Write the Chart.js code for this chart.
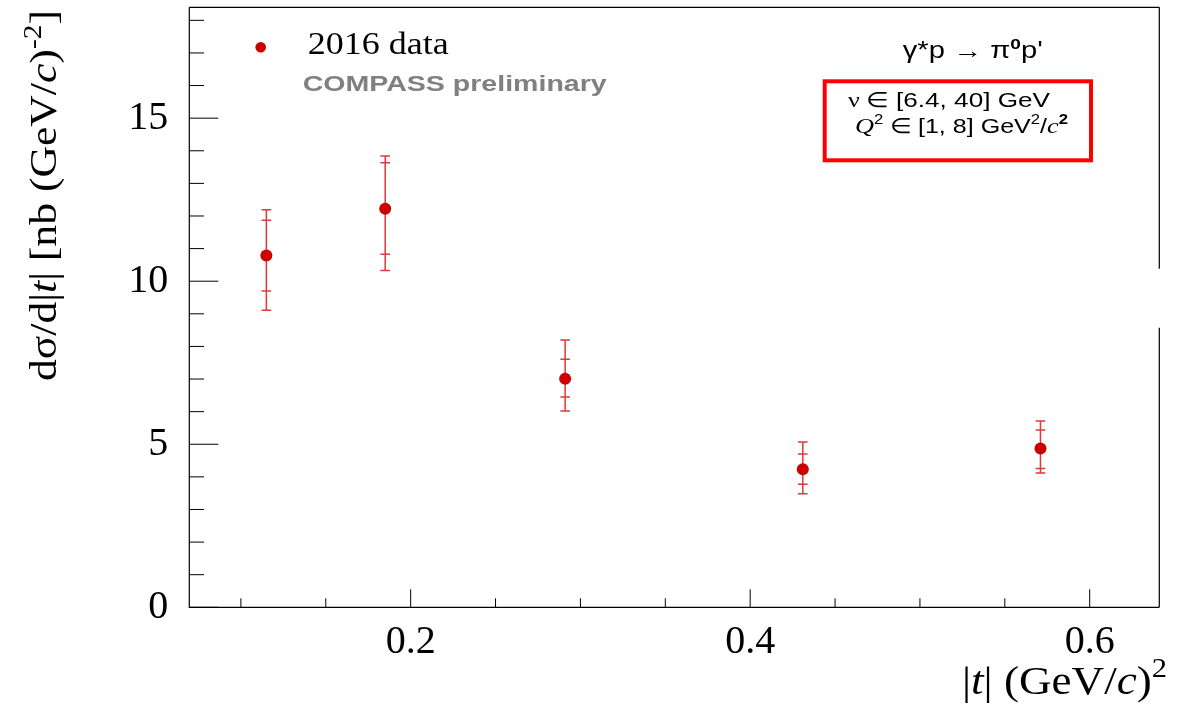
<!DOCTYPE html>
<html>
<head>
<meta charset="utf-8">
<script src="https://cdn.jsdelivr.net/npm/chart.js@4/dist/chart.umd.min.js"></script>
<style>
  html, body { margin: 0; padding: 0; background: #fff; }
  canvas { display: block; }
</style>
</head>
<body>
<canvas id="c" width="1182" height="711"></canvas>
<script>
// |t| bin centres (GeV/c)^2 and measured dσ/d|t| in nb (GeV/c)^-2
const tBins   = [0.115, 0.185, 0.291, 0.431, 0.571];
const sigma   = [10.79, 12.22, 7.01, 4.23, 4.87];
// statistical uncertainties (inner caps)
const statUp   = [1.08, 1.41, 0.60, 0.47, 0.57];
const statDown = [1.09, 1.39, 0.56, 0.46, 0.61];
// total uncertainties (outer caps)
const totUp    = [1.40, 1.62, 1.19, 0.84, 0.84];
const totDown  = [1.68, 1.89, 0.99, 0.75, 0.75];

// axis ticks
const xMajorTicks = [0.2, 0.4, 0.6];
const xTickLabels = ['0.2', '0.4', '0.6'];
const xMinorTicks = [0.1, 0.15, 0.25, 0.3, 0.35, 0.45, 0.5, 0.55];
const yMajorTicks = [0, 5, 10, 15];
const yTickLabels = ['0', '5', '10', '15'];
const yMinorTicks = [1, 2, 3, 4, 6, 7, 8, 9, 11, 12, 13, 14, 16, 17, 18];

const SERIF = '"Liberation Serif", "Times New Roman", serif';
const SANS  = '"Liberation Sans", Arial, Helvetica, sans-serif';
const RED   = '#cc0000';

// Draws a sequence of styled text runs, optionally stretched to a given width
// and optionally rotated to read bottom-to-top.
function drawRich(ctx, runs, x, y, opt) {
  opt = opt || {};
  ctx.save();
  let total = 0;
  const widths = runs.map(r => { ctx.font = r.font; const w = ctx.measureText(r.text).width; total += w; return w; });
  const sx = opt.width ? opt.width / total : 1;
  ctx.translate(x, y);
  if (opt.rotate) ctx.rotate(-Math.PI / 2);
  ctx.scale(sx, 1);
  ctx.textBaseline = 'alphabetic';
  ctx.textAlign = 'left';
  let cx = 0;
  runs.forEach((r, i) => {
    ctx.font = r.font;
    ctx.fillStyle = r.color || opt.color || '#000';
    ctx.fillText(r.text, cx, r.dy || 0);
    cx += widths[i];
  });
  ctx.restore();
}

const errorBars = {
  id: 'errorBars',
  beforeDatasetsDraw(chart) {
    const { ctx, scales: { x, y } } = chart;
    ctx.save();
    ctx.strokeStyle = 'rgba(214,22,22,0.85)';
    ctx.lineWidth = 1.5;
    const cap = 4.8;
    tBins.forEach((t, i) => {
      const px = x.getPixelForValue(t);
      const yTop = y.getPixelForValue(sigma[i] + totUp[i]);
      const yBot = y.getPixelForValue(sigma[i] - totDown[i]);
      ctx.beginPath();
      ctx.moveTo(px, yTop); ctx.lineTo(px, yBot);
      [sigma[i] + totUp[i], sigma[i] - totDown[i], sigma[i] + statUp[i], sigma[i] - statDown[i]].forEach(v => {
        const py = y.getPixelForValue(v);
        ctx.moveTo(px - cap, py); ctx.lineTo(px + cap, py);
      });
      ctx.stroke();
    });
    ctx.restore();
  }
};

const frameAndLabels = {
  id: 'frameAndLabels',
  afterDraw(chart) {
    const { ctx, chartArea: a, scales: { x, y } } = chart;
    ctx.save();
    // frame (the right edge is interrupted)
    ctx.strokeStyle = '#000';
    ctx.lineWidth = 1.2;
    ctx.beginPath();
    ctx.moveTo(a.left, a.top); ctx.lineTo(a.right, a.top);
    ctx.moveTo(a.left, a.top); ctx.lineTo(a.left, a.bottom);
    ctx.lineTo(a.right, a.bottom);
    ctx.moveTo(a.right, a.top); ctx.lineTo(a.right, 268.7);
    ctx.moveTo(a.right, 327.7); ctx.lineTo(a.right, a.bottom);
    ctx.stroke();

    // inward tick marks
    ctx.lineWidth = 1;
    ctx.beginPath();
    yMajorTicks.forEach(v => { const p = y.getPixelForValue(v); ctx.moveTo(a.left, p); ctx.lineTo(a.left + 29, p); });
    yMinorTicks.forEach(v => { const p = y.getPixelForValue(v); ctx.moveTo(a.left, p); ctx.lineTo(a.left + 14.7, p); });
    xMajorTicks.forEach(v => { const p = x.getPixelForValue(v); ctx.moveTo(p, a.bottom); ctx.lineTo(p, a.bottom - 18); });
    xMinorTicks.forEach(v => { const p = x.getPixelForValue(v); ctx.moveTo(p, a.bottom); ctx.lineTo(p, a.bottom - 9); });
    ctx.stroke();

    // axis titles
    const it = s => 'italic ' + s + 'px ' + SERIF;
    const rm = s => s + 'px ' + SERIF;
    drawRich(ctx, [
      { text: 'dσ/d|', font: rm(37) },
      { text: 't', font: it(37) },
      { text: '| [nb (GeV/', font: rm(37) },
      { text: 'c', font: it(37) },
      { text: ')', font: rm(37) },
      { text: '-2', font: rm(25), dy: -15 },
      { text: ']', font: rm(37) }
    ], 56, 381, { rotate: true, width: 371 });

    drawRich(ctx, [
      { text: '|', font: rm(40) },
      { text: 't', font: it(40) },
      { text: '| (GeV/', font: rm(40) },
      { text: 'c', font: it(40) },
      { text: ')', font: rm(40) },
      { text: '2', font: rm(27), dy: -17 }
    ], 962, 694, { width: 205 });

    // legend
    ctx.fillStyle = RED;
    ctx.beginPath(); ctx.arc(260.7, 47.3, 5.3, 0, Math.PI * 2); ctx.fill();
    drawRich(ctx, [{ text: '2016 data', font: rm(31) }], 307.7, 54, { width: 141 });
    drawRich(ctx, [{ text: 'COMPASS preliminary', font: 'bold 22px ' + SANS }], 302.7, 90.7, { width: 304, color: '#808080' });

    // process and kinematic range
    drawRich(ctx, [
      { text: 'γ*p ', font: '23px ' + SANS },
      { text: '→', font: '23px ' + SERIF },
      { text: ' π', font: '23px ' + SANS },
      { text: '0', font: 'bold 15px ' + SANS, dy: -9 },
      { text: "p'", font: '23px ' + SANS }
    ], 902.7, 58, { width: 140 });

    ctx.strokeStyle = '#ff0000';
    ctx.lineWidth = 4;
    ctx.strokeRect(824.7, 81.3, 1091 - 824.7, 160.3 - 81.3);

    drawRich(ctx, [
      { text: 'ν ', font: '21px ' + SERIF },
      { text: '∈', font: '21px ' + SERIF },
      { text: ' [6.4, 40] GeV', font: '21px ' + SANS }
    ], 848, 107, { width: 202 });
    drawRich(ctx, [
      { text: 'Q', font: 'italic 22px ' + SERIF },
      { text: '2', font: '14px ' + SANS, dy: -9 },
      { text: ' ∈', font: '21px ' + SERIF },
      { text: ' [1, 8] GeV', font: '21px ' + SANS },
      { text: '2', font: '14px ' + SANS, dy: -9 },
      { text: '/', font: '21px ' + SANS },
      { text: 'c', font: 'italic 22px ' + SERIF },
      { text: '2', font: 'bold 14px ' + SANS, dy: -9 }
    ], 855, 133, { width: 213 });
    ctx.restore();
  }
};

new Chart(document.getElementById('c'), {
  type: 'scatter',
  data: {
    datasets: [{
      label: '2016 data',
      data: tBins.map((t, i) => ({ x: t, y: sigma[i] })),
      pointRadius: 6,
      pointHoverRadius: 6,
      pointBackgroundColor: RED,
      pointBorderWidth: 0,
      showLine: false
    }]
  },
  options: {
    responsive: false,
    animation: false,
    devicePixelRatio: 1,
    events: [],
    layout: { padding: { left: 0, right: 22.7, top: 7.3, bottom: 0 } },
    plugins: { legend: { display: false }, tooltip: { enabled: false } },
    scales: {
      x: {
        type: 'linear', min: 0.0696, max: 0.641,
        grid: { display: false }, border: { display: false },
        afterBuildTicks: s => { s.ticks = xMajorTicks.map(v => ({ value: v })); },
        afterFit: s => { s.height = 711 - 607.3; s.paddingLeft = 0; s.paddingRight = 0; },
        ticks: {
          font: { family: SERIF, size: 40 }, color: '#000', padding: 3,
          maxRotation: 0, autoSkip: false,
          callback: (v, i) => xTickLabels[i]
        }
      },
      y: {
        type: 'linear', min: 0, max: 18.4,
        grid: { display: false }, border: { display: false },
        afterBuildTicks: s => { s.ticks = yMajorTicks.map(v => ({ value: v })); },
        afterFit: s => { s.width = 189.3; s.paddingTop = 0; s.paddingBottom = 0; },
        ticks: {
          font: { family: SERIF, size: 40 }, color: '#000', padding: 13,
          autoSkip: false,
          callback: (v, i) => yTickLabels[i]
        }
      }
    }
  },
  plugins: [errorBars, frameAndLabels]
});
</script>
</body>
</html>
